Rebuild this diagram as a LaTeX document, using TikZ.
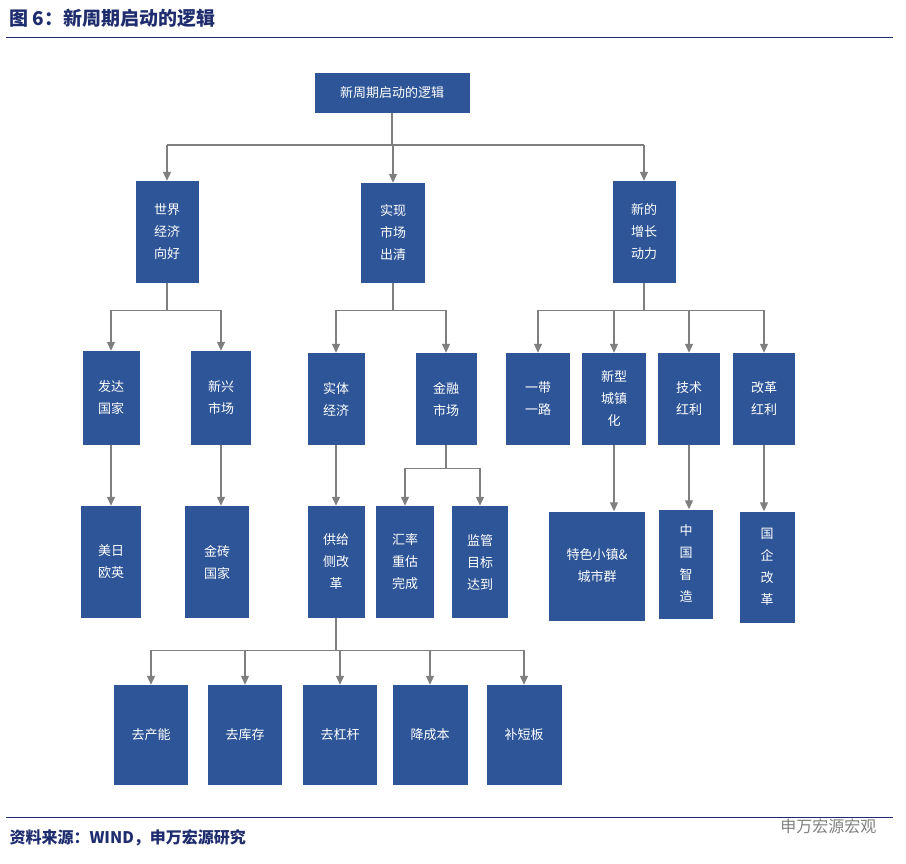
\documentclass[tikz,border=0pt]{standalone}
\usepackage{fontspec}
\setmainfont{Noto Sans CJK SC}
\usetikzlibrary{arrows.meta}
\definecolor{boxblue}{HTML}{2E5597}
\definecolor{titleblue}{HTML}{1F2D6E}
\definecolor{linegray}{HTML}{7F7F7F}

\begin{document}
\begin{tikzpicture}[x=1pt,y=-1pt,
    cell/.style={fill=boxblue,text=white,align=center,inner sep=0pt,
      font=\fontsize{13}{22}\selectfont},
    bus/.style={draw=linegray,line width=1.2pt},
    arr/.style={bus,-{Triangle[length=9pt,width=8pt]}}]
  \useasboundingbox (0,0) rectangle (906,864);

  % header and footer
  \node[anchor=west,text=titleblue,font=\fontsize{19}{22}\selectfont\bfseries] (title) at (6,18) {图 6：新周期启动的逻辑};
  \draw[titleblue,line width=1pt] (6,38) -- (893,38);
  \draw[titleblue,line width=1pt] (6,817) -- (893,817);
  \node[anchor=west,text=titleblue,font=\fontsize{16}{18}\selectfont\bfseries] (src) at (6,838) {资料来源：WIND，申万宏源研究};
  \node[anchor=east,text=linegray,font=\fontsize{16}{18}\selectfont] (mark) at (880,826) {申万宏源宏观};

  % boxes
  \node[cell,minimum width=155,minimum height=40] (root) at (392,93) {新周期启动的逻辑};

  \node[cell,minimum width=63,minimum height=102] (world) at (167,232) {世界\\经济\\向好};
  \node[cell,minimum width=64,minimum height=100] (clear) at (393,233) {实现\\市场\\出清};
  \node[cell,minimum width=63,minimum height=102] (growth) at (644,232) {新的\\增长\\动力};

  \node[cell,minimum width=57,minimum height=94] (dev) at (111,398) {发达\\国家};
  \node[cell,minimum width=60,minimum height=94] (emer) at (221,398) {新兴\\市场};
  \node[cell,minimum width=57,minimum height=92] (real) at (336,399) {实体\\经济};
  \node[cell,minimum width=61,minimum height=92] (fin) at (446,399) {金融\\市场};
  \node[cell,minimum width=64,minimum height=92] (belt) at (538,399) {一带\\一路};
  \node[cell,minimum width=64,minimum height=92] (urban) at (614,399) {新型\\城镇\\化};
  \node[cell,minimum width=62,minimum height=92] (tech) at (689,399) {技术\\红利};
  \node[cell,minimum width=62,minimum height=92] (reform) at (764,399) {改革\\红利};

  \node[cell,minimum width=60,minimum height=112] (usjp) at (111,562) {美日\\欧英};
  \node[cell,minimum width=64,minimum height=112] (brics) at (217,562) {金砖\\国家};
  \node[cell,minimum width=57,minimum height=112] (supply) at (336,562) {供给\\侧改\\革};
  \node[cell,minimum width=58,minimum height=112] (fx) at (405,562) {汇率\\重估\\完成};
  \node[cell,minimum width=56,minimum height=112] (reg) at (480,562) {监管\\目标\\达到};
  \node[cell,minimum width=96,minimum height=109] (town) at (597,566) {特色小镇\&\\城市群};
  \node[cell,minimum width=54,minimum height=109] (made) at (686,564) {中\\国\\智\\造};
  \node[cell,minimum width=55,minimum height=111] (soe) at (767,567) {国\\企\\改\\革};

  \node[cell,minimum width=74,minimum height=100] (cap) at (151,735) {去产能};
  \node[cell,minimum width=74,minimum height=100] (inv) at (245,735) {去库存};
  \node[cell,minimum width=74,minimum height=100] (lev) at (340,735) {去杠杆};
  \node[cell,minimum width=75,minimum height=100] (cost) at (430,735) {降成本};
  \node[cell,minimum width=75,minimum height=100] (short) at (524,735) {补短板};

  % connectors
  \draw[bus] (root.south) -- (392,145) coordinate (b0);
  \draw[bus] (b0 -| world) -- (b0 -| growth);
  \foreach \n in {world,clear,growth}
    \draw[arr] (b0 -| \n) -- (\n.north);

  \draw[bus] (world.south) -- ++(0,27) coordinate (b1);
  \draw[bus] (b1 -| dev) -- (b1 -| emer);
  \foreach \n in {dev,emer}
    \draw[arr] (b1 -| \n) -- (\n.north);

  \draw[bus] (clear.south) -- ++(0,27) coordinate (b2);
  \draw[bus] (b2 -| real) -- (b2 -| fin);
  \foreach \n in {real,fin}
    \draw[arr] (b2 -| \n) -- (\n.north);

  \draw[bus] (growth.south) -- ++(0,27) coordinate (b3);
  \draw[bus] (b3 -| belt) -- (b3 -| reform);
  \foreach \n in {belt,urban,tech,reform}
    \draw[arr] (b3 -| \n) -- (\n.north);

  \draw[arr] (dev) -- (usjp);
  \draw[arr] (emer.south) -- (emer.south |- brics.north);
  \draw[arr] (real) -- (supply);
  \draw[arr] (urban.south) -- (urban.south |- town.north);
  \draw[arr] (tech.south) -- (tech.south |- made.north);
  \draw[arr] (reform.south) -- (reform.south |- soe.north);

  \draw[bus] (fin.south) -- ++(0,23) coordinate (b4);
  \draw[bus] (b4 -| fx) -- (b4 -| reg);
  \foreach \n in {fx,reg}
    \draw[arr] (b4 -| \n) -- (\n.north);

  \draw[bus] (supply.south) -- ++(0,32) coordinate (b5);
  \draw[bus] (b5 -| cap) -- (b5 -| short);
  \foreach \n in {cap,inv,lev,cost,short}
    \draw[arr] (b5 -| \n) -- (\n.north);
\end{tikzpicture}
\end{document}
